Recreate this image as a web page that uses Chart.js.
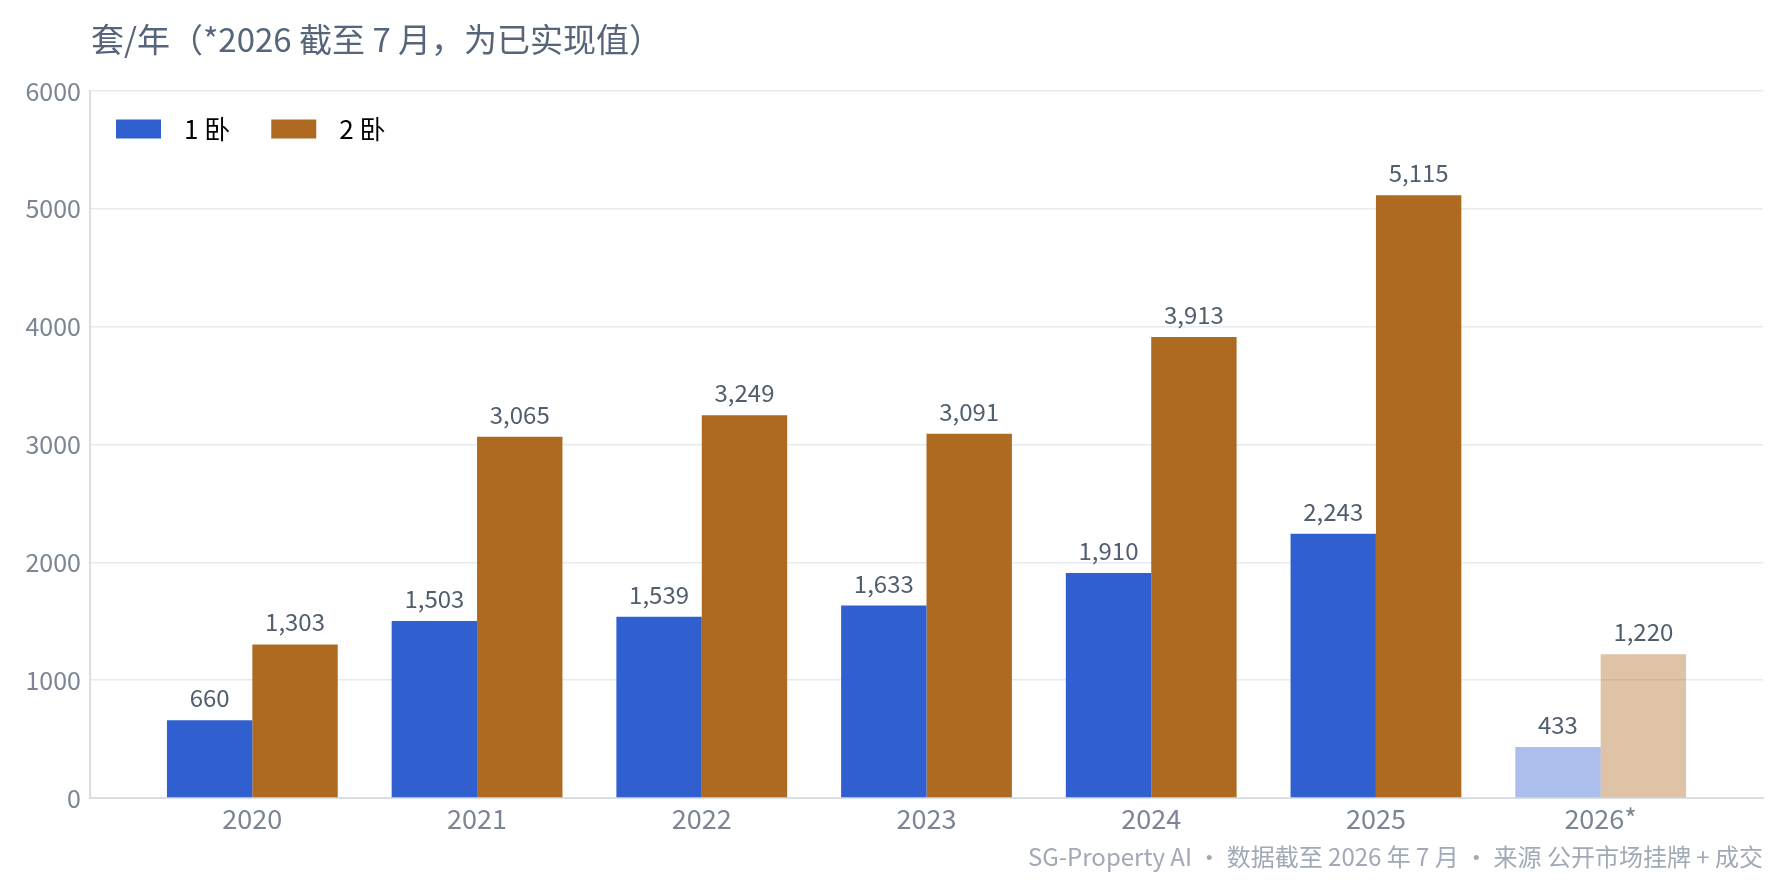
<!DOCTYPE html>
<html>
<head>
<meta charset="utf-8">
<script src="https://cdn.jsdelivr.net/npm/chart.js@4"></script>
<style>
  html, body { margin: 0; padding: 0; background: #fff; }
  #wrap { width: 1785px; height: 882px; }
</style>
</head>
<body>
<div id="wrap"><canvas id="c" width="1785" height="882"></canvas></div>
<script>
// data
const years = ['2020', '2021', '2022', '2023', '2024', '2025', '2026*'];
const oneBed = [660, 1503, 1539, 1633, 1910, 2243, 433];
const twoBed = [1303, 3065, 3249, 3091, 3913, 5115, 1220];
const seriesLabels = ['1 卧', '2 卧'];
const yTicks = [0, 1000, 2000, 3000, 4000, 5000, 6000];
const partialIndex = 6; // 2026 is year-to-date -> faded bars

const FONT = '"Noto Sans CJK SC", "Noto Sans", sans-serif';
const BLUE = 'rgb(48,96,208)', BLUE_FADED = 'rgba(48,96,208,0.4)';
const BROWN = 'rgb(173,106,32)', BROWN_FADED = 'rgba(173,106,32,0.4)';

// title, in-plot legend, footer and value labels drawn on the canvas
const decorPlugin = {
  id: 'decor',
  afterDatasetsDraw(chart) {
    const { ctx, chartArea } = chart;
    ctx.save();
    // value labels above each bar
    ctx.font = '24px ' + FONT;
    ctx.fillStyle = '#505e6e';
    ctx.textAlign = 'center';
    ctx.textBaseline = 'alphabetic';
    chart.data.datasets.forEach((ds, di) => {
      chart.getDatasetMeta(di).data.forEach((bar, i) => {
        ctx.fillText(ds.data[i].y.toLocaleString('en-US'), bar.x, bar.y - 13);
      });
    });
    // title
    ctx.font = '33px ' + FONT;
    ctx.fillStyle = '#56657a';
    ctx.textAlign = 'left';
    ctx.textBaseline = 'middle';
    ctx.fillText('套/年（*2026 截至 7 月，为已实现值）', 91, 39);
    // legend inside the plot
    let x = chartArea.left + 26;
    const cy = 129;
    ctx.font = '26px ' + FONT;
    chart.data.datasets.forEach((ds) => {
      ctx.fillStyle = ds.legendColor;
      ctx.fillRect(x, cy - 9.5, 45, 19);
      ctx.fillStyle = '#000';
      ctx.fillText(ds.label, x + 68, cy);
      x += 68 + ctx.measureText(ds.label).width + 41;
    });
    // footer
    ctx.font = '24px ' + FONT;
    ctx.fillStyle = '#a0a9b5';
    ctx.textAlign = 'right';
    ctx.fillText('SG-Property AI · 数据截至 2026 年 7 月 · 来源 公开市场挂牌 + 成交', chartArea.right, 857);
    ctx.restore();
  },
};

function points(values) {
  return values.map((v, i) => ({ x: i, y: v }));
}

new Chart(document.getElementById('c'), {
  type: 'bar',
  data: {
    datasets: [
      {
        label: seriesLabels[0],
        data: points(oneBed),
        backgroundColor: oneBed.map((_, i) => (i === partialIndex ? BLUE_FADED : BLUE)),
        legendColor: BLUE,
      },
      {
        label: seriesLabels[1],
        data: points(twoBed),
        backgroundColor: twoBed.map((_, i) => (i === partialIndex ? BROWN_FADED : BROWN)),
        legendColor: BROWN,
      },
    ],
  },
  options: {
    responsive: false,
    animation: false,
    layout: { padding: { top: 91, right: 22, bottom: 0, left: 0 } },
    datasets: { bar: { categoryPercentage: 0.76, barPercentage: 1.0, borderWidth: 0 } },
    scales: {
      x: {
        type: 'linear',
        offset: false,
        min: -0.7224,
        max: years.length - 1 + 0.7224,
        grid: { display: false, drawTicks: false, offset: false },
        border: { display: true, color: '#d9dee4', width: 2 },
        afterBuildTicks(scale) { scale.ticks = years.map((_, i) => ({ value: i })); },
        afterFit(scale) { scale.height = 84; },
        ticks: {
          padding: 5,
          color: '#7b8594',
          font: { family: FONT, size: 27 },
          callback: (v) => years[v],
        },
      },
      y: {
        min: 0,
        max: 6000,
        grid: { color: '#e7eaee', lineWidth: 1.5, drawTicks: false },
        border: { display: true, color: '#d9dee4', width: 2 },
        afterBuildTicks(scale) { scale.ticks = yTicks.map((v) => ({ value: v })); },
        afterFit(scale) { scale.width = 90; },
        ticks: {
          padding: 9,
          color: '#7b8594',
          font: { family: FONT, size: 25 },
          callback: (v) => String(v),
        },
      },
    },
    plugins: { legend: { display: false }, tooltip: { enabled: false }, title: { display: false } },
  },
  plugins: [decorPlugin],
});
</script>
</body>
</html>
